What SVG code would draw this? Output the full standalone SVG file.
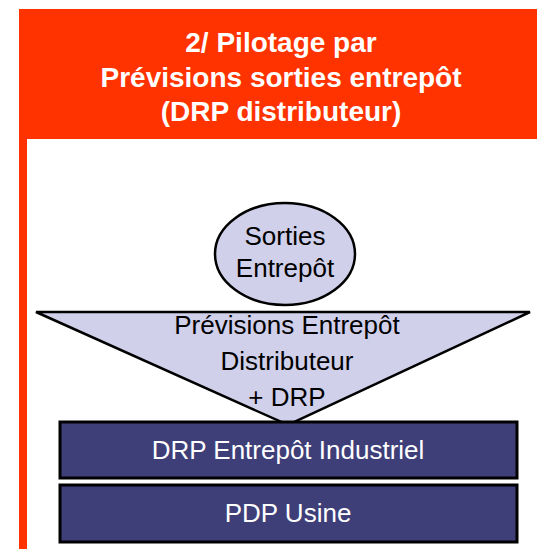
<svg xmlns="http://www.w3.org/2000/svg" width="537" height="549" viewBox="0 0 537 549">
  <style>
    .hdr { font-family: "Liberation Sans", Arial, sans-serif; font-weight: bold; font-size: 28px; fill: #ffffff; text-anchor: middle; }
    .lbl { font-family: "Liberation Sans", Arial, sans-serif; font-size: 26px; text-anchor: middle; }
    .dark { fill: #000000; }
    .light { fill: #ffffff; }
    .soft { fill: #d0d0ea; stroke: #000000; stroke-width: 2.5; }
    .box { fill: #3e3e78; stroke: #000000; stroke-width: 3; }
  </style>

  <rect width="537" height="549" fill="#ffffff"/>

  <!-- title banner and frame -->
  <g id="banner">
    <rect x="19" y="9" width="518" height="130" fill="#ff3300"/>
    <rect x="19" y="139" width="8" height="410" fill="#ff3300"/>
    <text class="hdr" x="281" y="52">2/ Pilotage par</text>
    <text class="hdr" x="281" y="87">Prévisions sorties entrepôt</text>
    <text class="hdr" x="281" y="121">(DRP distributeur)</text>
  </g>

  <g id="connectors"></g>

  <g id="sorties">
    <ellipse class="soft" cx="285" cy="254" rx="70" ry="51"/>
    <text class="lbl dark" x="285" y="245">Sorties</text>
    <text class="lbl dark" x="285" y="277">Entrepôt</text>
  </g>

  <g id="previsions">
    <polygon class="soft" points="36,312 530,312 288,425"/>
    <text class="lbl dark" x="287" y="334">Prévisions Entrepôt</text>
    <text class="lbl dark" x="287" y="370">Distributeur</text>
    <text class="lbl dark" x="287" y="406">+ DRP</text>
  </g>

  <g id="drp-industriel">
    <rect class="box" x="60" y="422" width="457" height="56"/>
    <text class="lbl light" x="288" y="459">DRP Entrepôt Industriel</text>
  </g>

  <g id="pdp-usine">
    <rect class="box" x="60" y="485" width="457" height="57"/>
    <text class="lbl light" x="288" y="522">PDP Usine</text>
  </g>
</svg>
